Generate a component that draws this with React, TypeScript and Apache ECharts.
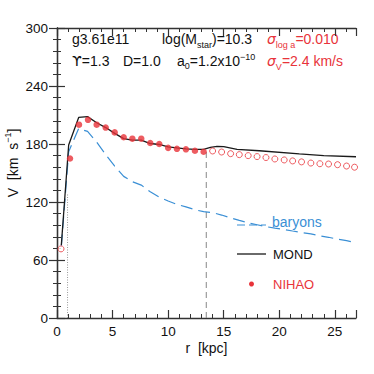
import React, { useEffect, useRef } from "react";
import * as echarts from "echarts";

// ---- data ----
const nihaoFilledR = [1.17, 1.98, 2.79, 3.57, 4.38, 5.19, 6.0, 6.78, 7.58, 8.39, 9.2, 10.0, 10.79, 11.6, 12.41, 13.19];
const nihaoFilledV = [165, 200, 205, 200, 197, 192, 187, 185.5, 185.5, 181, 180, 176, 175, 174.5, 173, 172];
const nihaoOpenR = [0.36, 14.0, 14.81, 15.62, 16.4, 17.2, 18.0, 18.8, 19.6, 20.44, 21.2, 22.0, 22.84, 23.65, 24.43, 25.24, 26.05, 26.77];
const nihaoOpenV = [71.5, 172.8, 171.7, 170, 169, 168, 167, 166, 164.5, 163.5, 162.5, 161.5, 160.3, 159.6, 159.3, 158.6, 157.2, 156];
const mondR = [0.39, 1.05, 1.95, 2.75, 3.57, 4.38, 5.19, 6.0, 6.78, 7.58, 8.39, 9.2, 10.0, 10.79, 11.6, 12.41, 13.19, 13.8, 14.4, 15.0, 16.2, 18.2, 21.8, 24.0, 26.9];
const mondV = [75.5, 179, 207.5, 208.3, 202, 197, 191, 185.5, 184, 184, 180.5, 179.5, 177, 176, 175, 174.5, 174.5, 176.5, 177.5, 177.3, 174.5, 173, 169.8, 168, 166.8];
const baryR = [0.39, 1.05, 1.95, 2.75, 3.57, 4.38, 5.19, 6.0, 6.78, 7.58, 8.39, 9.2, 10.0, 10.79, 11.6, 12.41, 13.19, 14.0, 14.81, 15.62, 16.4, 17.2, 18.0, 18.8, 19.6, 20.44, 21.2, 22.0, 22.84, 23.65, 24.43, 25.24, 26.05, 26.9];
const baryV = [74, 172, 196, 193, 182, 169, 157, 146.5, 141, 137.5, 130.5, 125, 121, 117.5, 115, 112, 110, 109, 106.5, 103.5, 101, 98.5, 96.5, 94.5, 93, 91.5, 90, 88.5, 87, 85, 83.5, 81.5, 80, 78];
const innerLineR = 0.95; // dotted vertical
const innerLineTop = 128;
const outerLineR = 13.43; // dashed vertical
const outerLineTop = 172;
const xMax = 26.9;
const yMax = 300;

const RED = "#e8333a";
const BLUE = "#3a8fd5";
const INK = "#111";
const FONT = "Liberation Sans";

const zip = (a: number[], b: number[]) => a.map((v, i) => [v, b[i]]);

export default function App() {
  const ref = useRef<HTMLDivElement>(null);
  useEffect(() => {
    if (!ref.current) return;
    const chart = echarts.init(ref.current, undefined, { renderer: "svg" });
    const axisLine = { show: true, lineStyle: { color: "#333", width: 1.3 } };
    const xBase = {
      type: "value" as const,
      min: 0,
      max: xMax,
      gridIndex: 0,
      splitLine: { show: false },
    };
    const labelFont = { fontFamily: FONT, fontSize: 13.5, color: INK };
    const main = { fontFamily: FONT, fontSize: 14, lineHeight: 20, fill: INK };
    const sub = { fontFamily: FONT, fontSize: 9, lineHeight: 8, verticalAlign: "bottom", fill: INK };
    const sup = { fontFamily: FONT, fontSize: 9, lineHeight: 8, verticalAlign: "top", fill: INK };
    const redMain = { ...main, fill: RED };
    const redSub = { ...sub, fill: RED };
    const redSig = { ...main, fill: RED, fontStyle: "italic", fontFamily: "DejaVu Sans" };
    const txt = (x: number, y: number, text: string, rich: any, extra: any = {}) => ({
      type: "text",
      x,
      y,
      style: { text, rich, verticalAlign: "middle", align: "left", ...extra },
    });
    chart.setOption({
      animation: false,
      grid: { left: 57, right: 18, top: 28, bottom: 56, containLabel: false },
      xAxis: [
        {
          ...xBase,
          position: "bottom",
          interval: 5,
          axisLine,
          axisTick: { show: true, inside: true, length: 8, lineStyle: { color: "#333", width: 1.2 } },
          axisLabel: {
            ...labelFont,
            margin: 6,
            formatter: (v: number) => (Math.abs(v % 5) < 1e-9 ? String(v) : ""),
          },
        },
        {
          ...xBase,
          position: "bottom",
          interval: 1,
          axisLine: { show: false },
          axisTick: { show: true, inside: true, length: 4, lineStyle: { color: "#333", width: 1 } },
          axisLabel: { show: false },
        },
        {
          ...xBase,
          position: "top",
          interval: 5,
          axisLine,
          axisTick: { show: true, inside: true, length: 8, lineStyle: { color: "#333", width: 1.2 } },
          axisLabel: { show: false },
        },
        {
          ...xBase,
          position: "top",
          interval: 1,
          axisLine: { show: false },
          axisTick: { show: true, inside: true, length: 4, lineStyle: { color: "#333", width: 1 } },
          axisLabel: { show: false },
        },
      ],
      yAxis: [
        {
          type: "value",
          min: 0,
          max: yMax,
          interval: 60,
          position: "left",
          axisLine,
          splitLine: { show: false },
          axisTick: { show: true, inside: true, length: 8, lineStyle: { color: "#333", width: 1.2 } },
          minorTick: { show: true, splitNumber: 5, length: 4, lineStyle: { color: "#333", width: 1 } },
          axisLabel: { ...labelFont, margin: 9 },
        },
        {
          type: "value",
          min: 0,
          max: yMax,
          interval: 60,
          position: "right",
          axisLine,
          splitLine: { show: false },
          axisTick: { show: true, inside: true, length: 8, lineStyle: { color: "#333", width: 1.2 } },
          minorTick: { show: true, splitNumber: 5, length: 4, lineStyle: { color: "#333", width: 1 } },
          axisLabel: { show: false },
        },
      ],
      series: [
        {
          name: "dotted",
          type: "line",
          data: [[innerLineR, 0], [innerLineR, innerLineTop]],
          symbol: "none",
          lineStyle: { color: "#999", width: 1, type: [1, 1.5] },
          z: 1,
        },
        {
          name: "dashed",
          type: "line",
          data: [[outerLineR, 0], [outerLineR, outerLineTop]],
          symbol: "none",
          lineStyle: { color: "#888", width: 1, type: [6, 4] },
          z: 1,
        },
        {
          name: "baryons",
          type: "line",
          data: zip(baryR, baryV),
          symbol: "none",
          lineStyle: { color: BLUE, width: 1.2, type: [12, 6] },
          z: 2,
        },
        {
          name: "MOND",
          type: "line",
          data: zip(mondR, mondV),
          symbol: "none",
          lineStyle: { color: "#1a1a1a", width: 1.3 },
          z: 3,
        },
        {
          name: "NIHAO",
          type: "scatter",
          data: zip(nihaoFilledR, nihaoFilledV),
          symbol: "circle",
          symbolSize: 6.5,
          itemStyle: { color: RED },
          z: 4,
        },
        {
          name: "NIHAO open",
          type: "scatter",
          data: zip(nihaoOpenR, nihaoOpenV),
          symbol: "circle",
          symbolSize: 6,
          itemStyle: { color: "#fff", borderColor: RED, borderWidth: 1 },
          z: 4,
          clip: false,
        },
      ],
      graphic: [
        txt(72, 39, "{n|g3.61e11}", { n: main }),
        txt(162, 39, "{n|log(M}{s|star}{n|)=10.3}", { n: main, s: sub }),
        txt(267, 39, "{g|σ}{s|log a}{n|=0.010}", { g: redSig, s: redSub, n: redMain }),
        txt(72, 61, "{u|ϒ}{n|=1.3}", { n: main, u: { ...main, fontFamily: "DejaVu Sans" } }),
        txt(123, 61, "{n|D=1.0}", { n: main }),
        txt(177, 61, "{n|a}{s|0}{n|=1.2x10}{p|−10}", { n: { ...main, lineHeight: 18 }, s: { ...sub }, p: sup }),
        txt(267, 61, "{g|σ}{s|V}{n|=2.4 km/s}", { g: redSig, s: redSub, n: redMain }),
        // legend
        {
          type: "line",
          shape: { x1: 237, y1: 225, x2: 266, y2: 225 },
          style: { stroke: BLUE, lineWidth: 1.2, lineDash: [8, 4] },
        },
        txt(272, 222, "{n|baryons}", { n: { ...main, fill: BLUE } }),
        {
          type: "line",
          shape: { x1: 237, y1: 254, x2: 266, y2: 254 },
          style: { stroke: "#1a1a1a", lineWidth: 1.3 },
        },
        txt(273, 254, "{n|MOND}", { n: { ...main, fontSize: 13 } }),
        { type: "circle", shape: { cx: 251.5, cy: 284, r: 2.5 }, style: { fill: RED } },
        txt(273, 284, "{n|NIHAO}", { n: { ...main, fontSize: 13, fill: RED } }),
        // axis names
        {
          type: "text",
          x: 206.5,
          y: 348,
          style: { text: "r  [kpc]", fontFamily: FONT, fontSize: 14, fill: INK, align: "center", verticalAlign: "middle" },
        },
        {
          type: "text",
          x: 13,
          y: 163,
          rotation: Math.PI / 2,
          style: {
            text: "{n|V  [km  s}{p|−1}{n|]}",
            rich: { n: { ...main, fontSize: 14 }, p: sup },
            align: "center",
            verticalAlign: "middle",
          },
        },
      ],
    });
    return () => chart.dispose();
  }, []);
  return <div ref={ref} style={{ position: "fixed", left: 0, top: 0, width: 374, height: 374, background: "#fff" }} />;
}
